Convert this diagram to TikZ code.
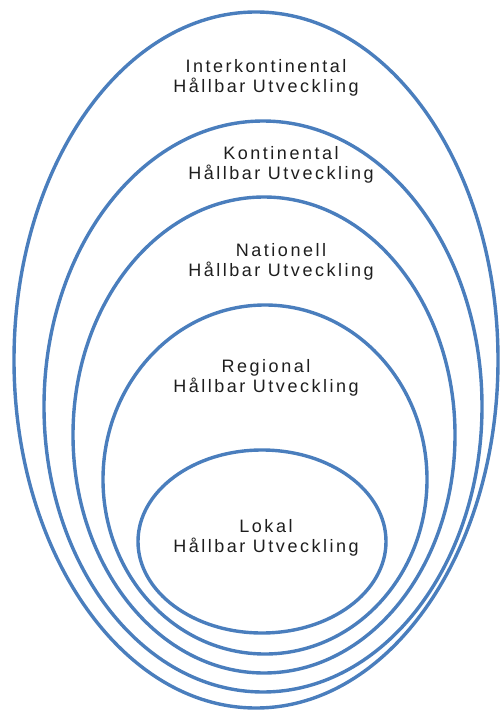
\documentclass[tikz,border=0pt]{standalone}
\usepackage{fontspec}
\setmainfont{Liberation Sans}[LetterSpace=14]
\usetikzlibrary{positioning}

\definecolor{ringblue}{RGB}{74,126,189}
\definecolor{labelgray}{RGB}{30,30,30}

\begin{document}
\begin{tikzpicture}[
  x=1pt, y=-1pt,
  ring/.style={draw=ringblue, line width=3.4pt},
  level/.style={align=center, inner sep=0pt, text=labelgray,
                font=\fontsize{18}{20}\selectfont},
]

% ── Canvas (pixel grid of the original, y pointing down) ─────────────────────
\useasboundingbox (0,0) rectangle (501,711);

% ── Nested rings, outermost first ────────────────────────────────────────────
% centre x, centre y, x radius, y radius
\draw[ring] (256, 360.0) ellipse [x radius=242, y radius=348];   % interkontinental
\draw[ring] (263, 406.5) ellipse [x radius=219, y radius=285.5]; % kontinental
\draw[ring] (264, 435.0) ellipse [x radius=191, y radius=238];   % nationell
\draw[ring] (265, 479.5) ellipse [x radius=162, y radius=174.5]; % regional
\draw[ring] (262, 541.5) ellipse [x radius=124, y radius=91.5];  % lokal

% ── Level labels ─────────────────────────────────────────────────────────────
\node[level] (inter) at (266,  78) {Interkontinental\\Hållbar Utveckling};
\node[level] (kont)  at (281, 165) {Kontinental\\Hållbar Utveckling};
\node[level] (nat)   at (281, 262) {Nationell\\Hållbar Utveckling};
\node[level] (reg)   at (266, 378) {Regional\\Hållbar Utveckling};
\node[level] (lok)   at (266, 538) {Lokal\\Hållbar Utveckling};

\end{tikzpicture}
\end{document}
